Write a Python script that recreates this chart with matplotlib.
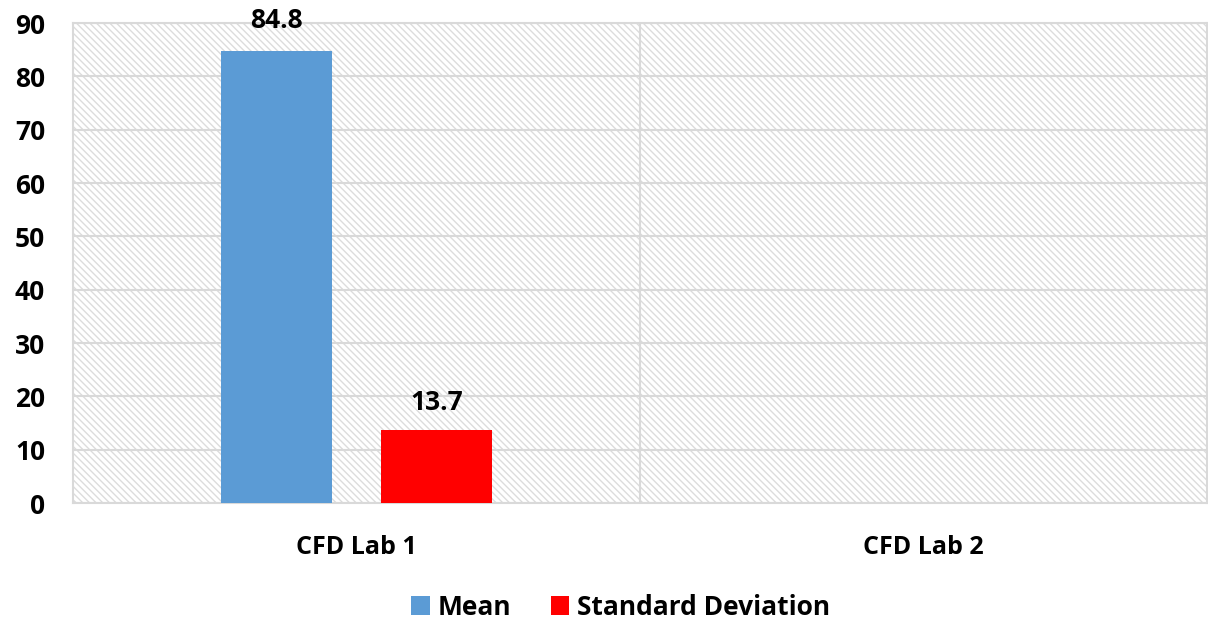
import matplotlib.pyplot as plt
from matplotlib.patches import Rectangle
import numpy as np

categories = ['CFD Lab 1', 'CFD Lab 2']
mean_vals = [84.8, np.nan]
sd_vals = [13.7, np.nan]
series_names = ['Mean', 'Standard Deviation']

plt.rcParams['font.family'] = ['Open Sans', 'DejaVu Sans']
plt.rcParams['font.weight'] = 'bold'
plt.rcParams['hatch.linewidth'] = 1.0

fig = plt.figure(figsize=(12.08, 6.21), dpi=100)
ax = fig.add_axes([73 / 1208, 1 - 503 / 621, 1134 / 1208, 480 / 621])

x = np.arange(len(categories))
w = 0.197
ax.bar(x - 0.141, mean_vals, w, color='#5b9bd5', label=series_names[0], zorder=3)
ax.bar(x + 0.141, sd_vals, w, color='#ff0000', label=series_names[1], zorder=3)

for xi, v in zip(x - 0.141, mean_vals):
    if not np.isnan(v):
        ax.annotate(f'{v:.1f}', (xi, v), xytext=(0, 12), textcoords='offset points',
                    ha='center', va='bottom', fontsize=19, fontweight='bold')
for xi, v in zip(x + 0.141, sd_vals):
    if not np.isnan(v):
        ax.annotate(f'{v:.1f}', (xi, v), xytext=(0, 10), textcoords='offset points',
                    ha='center', va='bottom', fontsize=19, fontweight='bold')

# hatched background
ax.add_patch(Rectangle((0, 0), 1, 1, transform=ax.transAxes, facecolor='white',
                       edgecolor='#dcdcdc', hatch='\\\\\\\\\\', lw=0, zorder=0))

ax.set_xlim(-0.5, 1.5)
ax.set_ylim(0, 90)
ax.set_yticks(range(0, 91, 10))
ax.yaxis.grid(True, color='#d9d9d9', lw=1.5, zorder=1)
ax.axvline(0.5, color='#d9d9d9', lw=1.5, zorder=1)
ax.set_xticks(x)
ax.set_xticklabels(categories, fontsize=18, fontweight='bold')
ax.tick_params(axis='y', length=0, pad=20, labelsize=19)
ax.tick_params(axis='x', length=0, pad=23)
for s in ax.spines.values():
    s.set_color('#d9d9d9')
    s.set_linewidth(1.5)

ax.legend(loc='upper center', bbox_to_anchor=(0.483, -0.14), ncol=2, frameon=False,
          fontsize=19, handlelength=0.7, handleheight=0.7, columnspacing=1.5,
          handletextpad=0.3)

fig.savefig('out.png', dpi=100)
